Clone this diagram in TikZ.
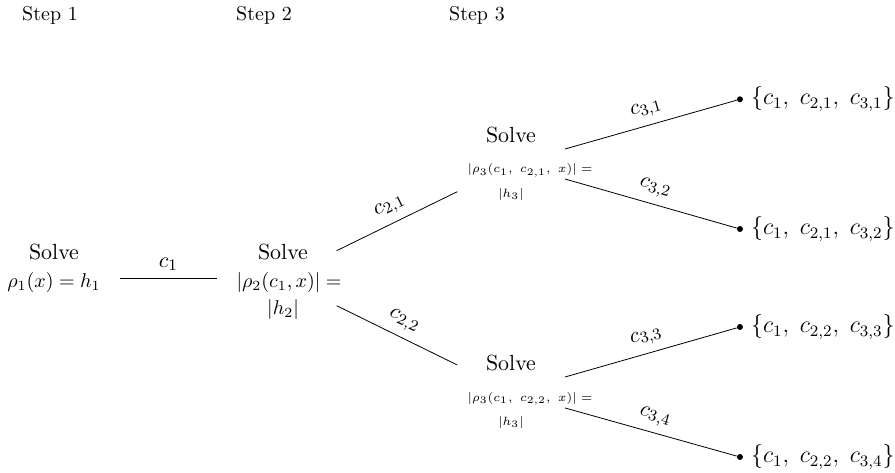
\documentclass[tikz,border=0pt,11pt]{standalone}
\usepackage{amsfonts,amssymb,amsmath}
\usepackage{tikz}
\tikzset{
solve/.style={align=center,inner sep=0pt,anchor=north},
choice/.style={above,sloped},
leaf/.style={shape=circle,fill,inner sep=0pt,minimum size=3pt},
steplabel/.style={anchor=base,font=\small}
}
\begin{document}
\begin{tikzpicture}
\useasboundingbox (0,0) rectangle (15.73,-8.313);
\node[steplabel] (t1) at (0.879,-0.364) {Step 1};
\node[steplabel] (t2) at (4.640,-0.364) {Step 2};
\node[steplabel] (t3) at (8.383,-0.364) {Step 3};
\node[solve] (s1) at (0.949,-4.288) {Solve\\ {\small$\rho_1(x) = h_1$}};
\node[solve] (s2) at (4.974,-4.288) {Solve\\ \hbox to 6pt{}{\small$|\rho_2(c_1, x)| =$}\\ {\small$|h_2|$}};
\node[solve] (s31) at (8.981,-2.227) {Solve\\[1.5pt] \hbox to 19pt{}{\tiny$|\rho_3(c_1,\ c_{2,1},\ x)| =$}\\[-1.4pt] {\tiny$|h_3|$}};
\node[solve] (s32) at (8.981,-6.239) {Solve\\[1.5pt] \hbox to 19pt{}{\tiny$|\rho_3(c_1,\ c_{2,2},\ x)| =$}\\[-1.4pt] {\tiny$|h_3|$}};
\coordinate (e1a) at (2.109,-4.891);
\coordinate (e1b) at (3.808,-4.891);
\coordinate (e2a) at (5.917,-4.406);
\coordinate (e2b) at (8.037,-3.369);
\coordinate (e3a) at (5.917,-5.373);
\coordinate (e3b) at (8.037,-6.415);
\coordinate (f1) at (9.930,-2.619);
\coordinate (f2) at (9.930,-3.146);
\coordinate (f3) at (9.930,-6.626);
\coordinate (f4) at (9.930,-7.170);
\node[leaf,label={[font=\large]right:$\{c_1,\; c_{2,1},\; c_{3,1}\}$}] (l1) at (13.005,-1.745) {};
\node[leaf,label={[font=\large]right:$\{c_1,\; c_{2,1},\; c_{3,2}\}$}] (l2) at (13.005,-4.025) {};
\node[leaf,label={[font=\large]right:$\{c_1,\; c_{2,2},\; c_{3,3}\}$}] (l3) at (13.005,-5.747) {};
\node[leaf,label={[font=\large]right:$\{c_1,\; c_{2,2},\; c_{3,4}\}$}] (l4) at (13.005,-8.032) {};
\draw (e1a)--node[above]{$c_1$}(e1b);
\draw (e2a)--node[choice]{$c_{2,1}$}(e2b);
\draw (e3a)--node[choice]{$c_{2,2}$}(e3b);
\draw (f1)--node[choice]{$c_{3,1}$}(l1);
\draw (f2)--node[choice]{$c_{3,2}$}(l2);
\draw (f3)--node[choice]{$c_{3,3}$}(l3);
\draw (f4)--node[choice]{$c_{3,4}$}(l4);
\end{tikzpicture}
\end{document}
